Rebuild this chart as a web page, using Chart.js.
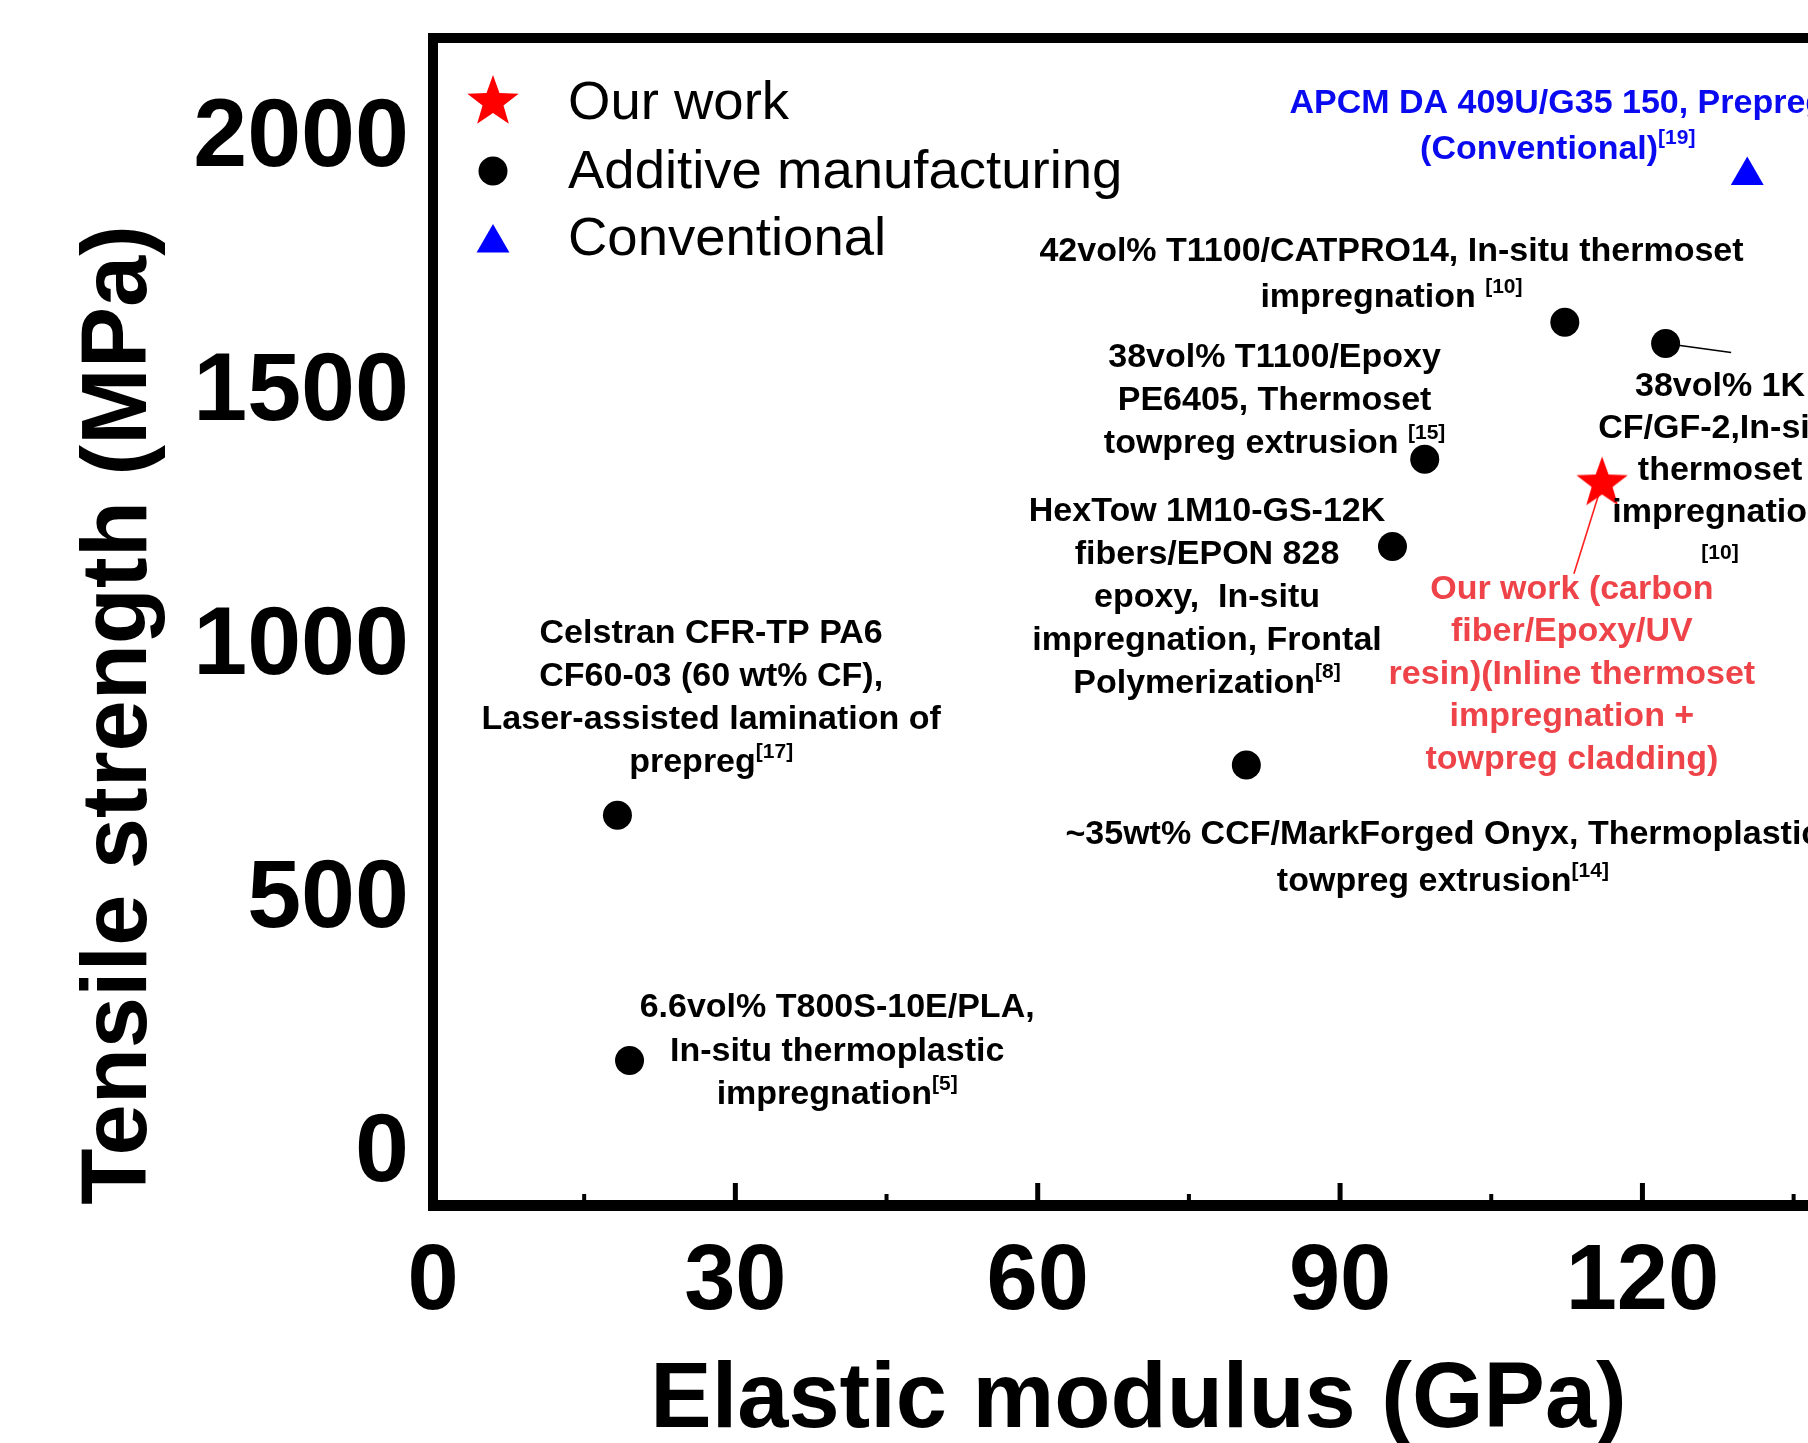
<!DOCTYPE html>
<html>
<head>
<meta charset="utf-8">
<title>Tensile strength vs elastic modulus</title>
<script src="https://cdn.jsdelivr.net/npm/chart.js@4.4.1/dist/chart.umd.min.js"></script>
<style>
  html, body { margin: 0; padding: 0; background: #fff; overflow: hidden; }
  #wrap { position: relative; width: 1900px; height: 1443px; }
</style>
</head>
<body>
<div id="wrap"><canvas id="c"></canvas></div>
<script>
// ---- Data: elastic modulus (GPa) vs tensile strength (MPa) ----
const seriesNames = ['Our work', 'Additive manufacturing', 'Conventional'];

const ourWorkModulus = [116.0];
const ourWorkStrength = [1312];

const additiveModulus = [112.3, 122.3, 98.4, 95.2, 80.7, 18.3, 19.5];
const additiveStrength = [1630, 1588, 1360, 1188, 757, 658, 175];

const conventionalModulus = [130.4];
const conventionalStrength = [1919];

const xTickValues = [0, 30, 60, 90, 120];
const xMinorValues = [15, 45, 75, 105, 135];
const yTickValues = [0, 500, 1000, 1500, 2000];
const xRange = [0, 140];
const yRange = [-110, 2190];

const xTitle = 'Elastic modulus (GPa)';
const yTitle = 'Tensile strength (MPa)';

// Point labels; ^{...} marks a superscript reference
const labelTexts = [
  ['42vol% T1100/CATPRO14, In-situ thermoset', 'impregnation ^{[10]}'],
  ['38vol% T1100/Epoxy', 'PE6405, Thermoset', 'towpreg extrusion ^{[15]}'],
  ['HexTow 1M10-GS-12K', 'fibers/EPON 828', 'epoxy,  In-situ', 'impregnation, Frontal', 'Polymerization^{[8]}'],
  ['Our work (carbon', 'fiber/Epoxy/UV', 'resin)(Inline thermoset', 'impregnation +', 'towpreg cladding)'],
  ['38vol% 1K', 'CF/GF-2,In-situ', 'thermoset', 'impregnation', '^{[10]}'],
  ['Celstran CFR-TP PA6', 'CF60-03 (60 wt% CF),', 'Laser-assisted lamination of', 'prepreg^{[17]}'],
  ['6.6vol% T800S-10E/PLA,', 'In-situ thermoplastic', 'impregnation^{[5]}'],
  ['~35wt% CCF/MarkForged Onyx, Thermoplastic', 'towpreg extrusion^{[14]}'],
  ['APCM DA 409U/G35 150, Prepreg', '(Conventional)^{[19]}']
];
// Anchor of each label's first line, in axis units [modulus, strength]
const labelAnchors = [
  [95.1, 1775], [83.5, 1566], [76.8, 1263], [113.0, 1109], [127.7, 1509],
  [27.6, 1021], [40.1, 284], [100.2, 625], [111.6, 2067]
];
const labelColors = ['#000', '#000', '#000', '#ee4449', '#000', '#000', '#000', '#000', '#0a0af0'];
const labelLineGaps = [46, 43, 43, 42.5, 42, 43, 43.5, 47, 46];

// Leader lines: from a plotted point [dataset, index] to an end in axis units
const leaderLines = [
  { from: [0, 0], to: [113.2, 1134], color: '#ff2020', width: 1.6 },
  { from: [1, 1], to: [128.8, 1570], color: '#000', width: 1.6 }
];

// ---- Marker images ----
function makeStar(R, r, color) {
  const s = Math.ceil(R * 2 + 4);
  const cv = document.createElement('canvas');
  cv.width = s; cv.height = s;
  const g = cv.getContext('2d');
  g.translate(s / 2, s / 2);
  g.beginPath();
  for (let i = 0; i < 10; i++) {
    const rad = i % 2 ? r : R;
    const a = -Math.PI / 2 + i * Math.PI / 5;
    g.lineTo(rad * Math.cos(a), rad * Math.sin(a));
  }
  g.closePath();
  g.fillStyle = color;
  g.fill();
  return cv;
}
const starImg = makeStar(27, 11, '#ff0000');

const FONT = '"Liberation Sans", Arial, Helvetica, sans-serif';

function toPoints(xs, ys) { return xs.map((x, i) => ({ x: x, y: ys[i] })); }

function parseRich(line) {
  const parts = [];
  const re = /\^\{([^}]*)\}/g;
  let last = 0, m;
  while ((m = re.exec(line))) {
    if (m.index > last) parts.push({ t: line.slice(last, m.index), sup: false });
    parts.push({ t: m[1], sup: true });
    last = re.lastIndex;
  }
  if (last < line.length) parts.push({ t: line.slice(last), sup: false });
  return parts;
}

function drawRichLine(ctx, line, cx, cy, size, supSize) {
  const parts = parseRich(line);
  const supOnly = parts.every(p => p.sup);
  const mainFont = 'bold ' + size + 'px ' + FONT;
  const supFont = 'bold ' + supSize + 'px ' + FONT;
  let w = 0;
  parts.forEach(p => { ctx.font = p.sup ? supFont : mainFont; p.w = ctx.measureText(p.t).width; w += p.w; });
  let x = cx - w / 2;
  ctx.textAlign = 'left';
  ctx.textBaseline = 'alphabetic';
  const base = cy + size * 0.36;
  parts.forEach(p => {
    ctx.font = p.sup ? supFont : mainFont;
    const y = p.sup ? (supOnly ? cy + supSize * 0.36 : base - size * 0.42) : base;
    ctx.fillText(p.t, x, y);
    x += p.w;
  });
}

function pointMarker(ctx, style, radius, x, y, color) {
  ctx.save();
  ctx.fillStyle = color;
  ctx.strokeStyle = color;
  if (Chart.helpers && Chart.helpers.drawPoint) {
    Chart.helpers.drawPoint(ctx, { pointStyle: style, rotation: 0, radius: radius, borderWidth: 0 }, x, y);
  } else if (style instanceof HTMLCanvasElement) {
    ctx.drawImage(style, x - style.width / 2, y - style.height / 2);
  }
  ctx.restore();
}

// ---- Frame, inward ticks, titles, labels and legend ----
const decorPlugin = {
  id: 'decor',
  beforeDatasetsDraw(chart) {
    const ctx = chart.ctx, xs = chart.scales.x, ys = chart.scales.y;
    ctx.save();
    leaderLines.forEach(l => {
      const pt = chart.data.datasets[l.from[0]].data[l.from[1]];
      ctx.beginPath();
      ctx.strokeStyle = l.color;
      ctx.lineWidth = l.width;
      ctx.moveTo(xs.getPixelForValue(pt.x), ys.getPixelForValue(pt.y));
      ctx.lineTo(xs.getPixelForValue(l.to[0]), ys.getPixelForValue(l.to[1]));
      ctx.stroke();
    });
    ctx.restore();
  },
  afterDraw(chart) {
    const ctx = chart.ctx, a = chart.chartArea, xs = chart.scales.x, ys = chart.scales.y;
    ctx.save();

    // point labels
    labelTexts.forEach((lines, i) => {
      ctx.fillStyle = labelColors[i];
      const cx = xs.getPixelForValue(labelAnchors[i][0]);
      const cy = ys.getPixelForValue(labelAnchors[i][1]);
      lines.forEach((ln, j) => drawRichLine(ctx, ln, cx, cy + j * labelLineGaps[i], 34, 21));
    });

    // plot frame
    const lw = 10;
    ctx.fillStyle = '#000';
    ctx.fillRect(a.left - lw / 2, a.top - lw / 2, a.right - a.left + lw, lw);
    ctx.fillRect(a.left - lw / 2, a.top - lw / 2, lw, a.bottom - a.top + lw);
    ctx.fillRect(a.right - lw / 2, a.top - lw / 2, lw, a.bottom - a.top + lw);
    ctx.fillRect(a.left - lw / 2, a.bottom - lw / 2, a.right - a.left + lw, lw + 1);

    // inward ticks on the bottom axis
    const inner = a.bottom - lw / 2;
    xTickValues.forEach(v => {
      if (v === xRange[0]) return;
      const px = xs.getPixelForValue(v);
      ctx.fillRect(px - 2.5, inner - 17, 5, 17);
    });
    xMinorValues.forEach(v => {
      const px = xs.getPixelForValue(v);
      ctx.fillRect(px - 2, inner - 6, 4, 6);
    });

    // axis titles
    ctx.fillStyle = '#000';
    ctx.font = 'bold 92px ' + FONT;
    ctx.textAlign = 'center';
    ctx.textBaseline = 'middle';
    ctx.fillText(xTitle, (a.left + a.right) / 2, a.bottom + 197);
    ctx.save();
    ctx.translate(a.left - 312, a.top + 677);
    ctx.rotate(-Math.PI / 2);
    ctx.fillText(yTitle, 0, 0);
    ctx.restore();

    // legend
    const rows = [64, 133, 200];
    const markerDy = [0, 0, 5];
    chart.data.datasets.forEach((ds, i) => {
      const mx = a.left + 60, my = a.top + rows[i] + markerDy[i];
      pointMarker(ctx, ds.pointStyle, ds.pointRadius, mx, my, ds.backgroundColor);
      ctx.fillStyle = '#000';
      ctx.font = '54.5px ' + FONT;
      ctx.textAlign = 'left';
      ctx.textBaseline = 'middle';
      ctx.fillText(ds.label, a.left + 135, a.top + rows[i] + 2);
    });

    ctx.restore();
  }
};

const H = 1443;
new Chart(document.getElementById('c'), {
  type: 'scatter',
  data: {
    datasets: [
      { label: seriesNames[0], data: toPoints(ourWorkModulus, ourWorkStrength),
        pointStyle: starImg, pointRadius: 27, pointHoverRadius: 27,
        backgroundColor: '#ff0000', borderColor: '#ff0000', borderWidth: 0 },
      { label: seriesNames[1], data: toPoints(additiveModulus, additiveStrength),
        pointStyle: 'circle', pointRadius: 14.5, pointHoverRadius: 14.5,
        backgroundColor: '#000', borderColor: '#000', borderWidth: 0 },
      { label: seriesNames[2], data: toPoints(conventionalModulus, conventionalStrength),
        pointStyle: 'triangle', pointRadius: 19, pointHoverRadius: 19,
        backgroundColor: '#0000ff', borderColor: '#0000ff', borderWidth: 0 }
    ]
  },
  options: {
    responsive: true,
    maintainAspectRatio: false,
    devicePixelRatio: 1,
    animation: false,
    events: [],
    layout: { padding: { left: 0, top: 38, right: 56, bottom: 0 } },
    plugins: { legend: { display: false }, tooltip: { enabled: false }, title: { display: false } },
    scales: {
      x: {
        type: 'linear', position: 'bottom', min: xRange[0], max: xRange[1],
        grid: { display: false, drawTicks: false },
        border: { display: false },
        afterBuildTicks: s => { s.ticks = xTickValues.map(v => ({ value: v })); },
        afterFit: s => { s.height = H - 1205; s.paddingLeft = 0; s.paddingRight = 0; },
        ticks: { autoSkip: false, maxRotation: 0, color: '#000', padding: 23,
                 callback: v => String(v),
                 font: { family: FONT, size: 92, weight: 'bold' } }
      },
      y: {
        type: 'linear', position: 'left', min: yRange[0], max: yRange[1],
        grid: { display: false, drawTicks: false },
        border: { display: false },
        afterBuildTicks: s => { s.ticks = yTickValues.map(v => ({ value: v })); },
        afterFit: s => { s.width = 433; s.paddingTop = 0; s.paddingBottom = 0; },
        ticks: { color: '#000', padding: 24, labelOffset: 5,
                 callback: v => String(v),
                 font: { family: FONT, size: 97, weight: 'bold' } }
      }
    }
  },
  plugins: [decorPlugin]
});
</script>
</body>
</html>
